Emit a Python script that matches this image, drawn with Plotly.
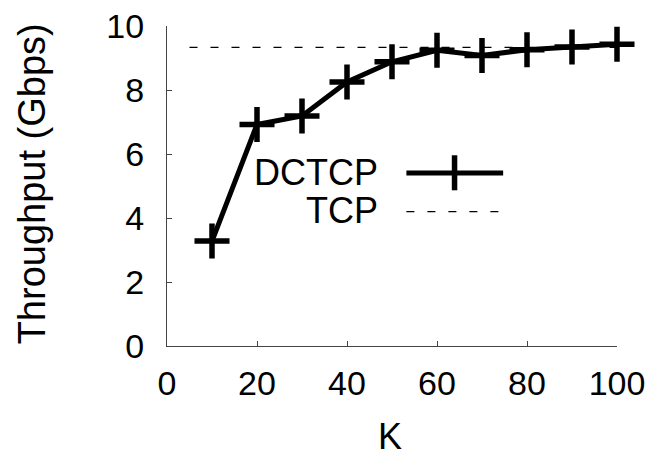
import plotly.graph_objects as go

K = [10, 20, 30, 40, 50, 60, 70, 80, 90, 100]
dctcp = [3.28, 6.92, 7.19, 8.25, 8.88, 9.24, 9.08, 9.26, 9.34, 9.43]
tcp_k = [5, 100]
tcp_val = [9.33, 9.33]
x_ticks = [0, 20, 40, 60, 80, 100]
y_ticks = [0, 2, 4, 6, 8, 10]

FONT = "Liberation Sans, Arial, Helvetica, sans-serif"

fig = go.Figure()
fig.add_trace(go.Scatter(x=tcp_k, y=tcp_val, mode="lines",
                         line=dict(color="black", width=1.3, dash="8px,13px"),
                         name="TCP", showlegend=False, cliponaxis=False))
fig.add_trace(go.Scatter(x=K, y=dctcp, mode="lines+markers",
                         line=dict(color="black", width=5),
                         marker=dict(symbol="cross-thin", size=25,
                                     line=dict(color="black", width=5.5)),
                         name="DCTCP", showlegend=False, cliponaxis=False))

axis_common = dict(showgrid=False, zeroline=False, showline=True,
                   linecolor="#444", linewidth=1, ticks="inside",
                   ticklen=5, tickcolor="#444", mirror=False, automargin=False,
                   ticklabeloverflow="allow",
                   tickfont=dict(family=FONT, size=34, color="black"))
fig.update_xaxes(range=[0, 100], tickvals=x_ticks, ticklabelstandoff=7,
                 **axis_common)
fig.update_yaxes(range=[0, 10], tickvals=y_ticks, ticklabelstandoff=15,
                 **axis_common)

# axis titles
fig.add_annotation(text="K", xref="paper", yref="paper", x=0.4956, y=-0.283,
                   showarrow=False, font=dict(family=FONT, size=36, color="black"),
                   xanchor="center", yanchor="middle")
fig.add_annotation(text="Throughput (Gbps)", xref="paper", yref="paper",
                   x=-0.298, y=0.508, textangle=-90, showarrow=False,
                   font=dict(family=FONT, size=38, color="black"),
                   xanchor="center", yanchor="middle")

# legend (text left, sample right)
leg_font = dict(family=FONT, size=36, color="black")
fig.add_annotation(text="DCTCP", xref="paper", yref="paper", x=0.4727, y=0.541,
                   showarrow=False, font=leg_font, xanchor="right", yanchor="middle")
fig.add_annotation(text="TCP", xref="paper", yref="paper", x=0.4727, y=0.424,
                   showarrow=False, font=leg_font, xanchor="right", yanchor="middle")
fig.add_shape(type="line", xref="paper", yref="paper", x0=0.532, x1=0.747,
              y0=0.541, y1=0.541, line=dict(color="black", width=5))
fig.add_shape(type="line", xref="paper", yref="paper", x0=0.639, x1=0.639,
              y0=0.4866, y1=0.596, line=dict(color="black", width=5.5))
fig.add_shape(type="line", xref="paper", yref="paper", x0=0.532, x1=0.747,
              y0=0.420, y1=0.420, line=dict(color="black", width=1.3, dash="8px,13px"))

# the page body adds an 8px offset, so the figure is sized 8px smaller
fig.update_layout(width=651, height=451, margin=dict(l=159, r=42, t=18, b=113),
                  plot_bgcolor="white", paper_bgcolor="white", showlegend=False)
fig.write_html("out.html")
